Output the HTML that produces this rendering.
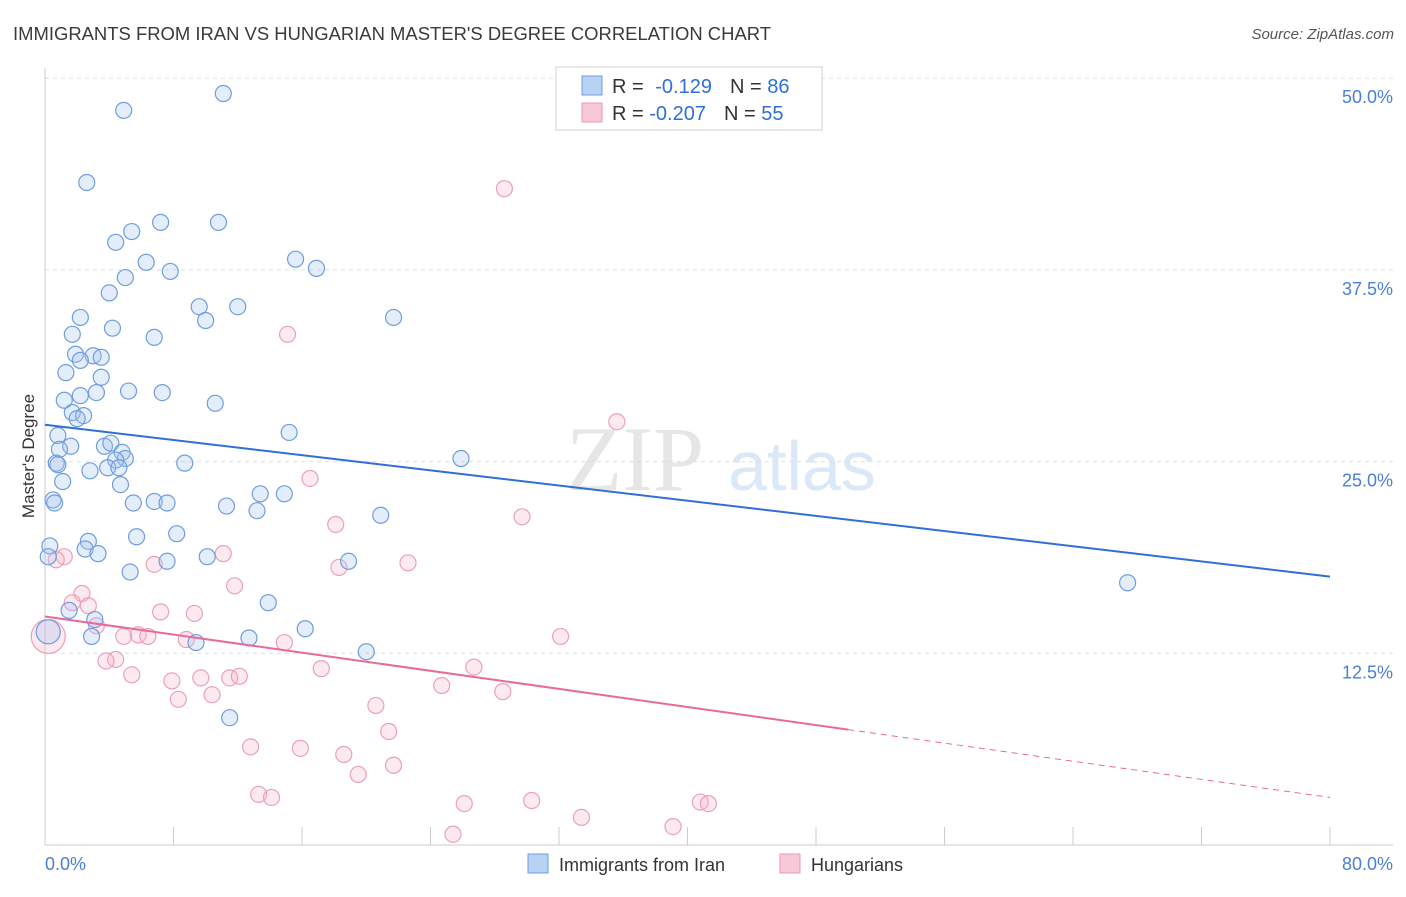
<!DOCTYPE html>
<html><head><meta charset="utf-8"><style>
body{margin:0;background:#fff;font-family:"Liberation Sans",sans-serif;}
</style></head><body>
<svg id="chart" width="1406" height="892" xmlns="http://www.w3.org/2000/svg" font-family="Liberation Sans, sans-serif">
<text x="13" y="40" font-size="18" fill="#3a3a3a" textLength="758" lengthAdjust="spacingAndGlyphs">IMMIGRANTS FROM IRAN VS HUNGARIAN MASTER'S DEGREE CORRELATION CHART</text>
<text x="1394" y="39" font-size="15" fill="#555" font-style="italic" text-anchor="end">Source: ZipAtlas.com</text>
<g>
<text x="635" y="490" font-size="92" fill="#e6e6e6" font-family="Liberation Serif, serif" text-anchor="middle">ZIP</text>
<text x="802" y="490" font-size="70" fill="#dbe8f7" text-anchor="middle">atlas</text>
</g>
<g id="grid"></g>
<g id="axes"></g>
<g id="pinkpts"></g>
<g id="bluepts"></g>
<g id="lines"></g>
<text transform="translate(34,456) rotate(-90)" font-size="17" fill="#333" text-anchor="middle">Master's Degree</text>
<text x="45" y="870" font-size="18" fill="#4a7fd4">0.0%</text>
<text x="1393" y="870" font-size="18" fill="#4a7fd4" text-anchor="end">80.0%</text>
<g>
<rect x="556" y="67" width="266" height="63" fill="#fff" stroke="#d0d0d0"/>
<rect x="582" y="76" width="20" height="19" fill="#b8d2f4" stroke="#6f9de0"/>
<rect x="582" y="103" width="20" height="19" fill="#f8c8d8" stroke="#e89ab2"/>
<text x="612" y="93" font-size="20" fill="#333">R = <tspan dx="6" fill="#2f6fd6">-0.129</tspan><tspan dx="18">N = </tspan><tspan fill="#2f6fd6">86</tspan></text>
<text x="612" y="120" font-size="20" fill="#333">R = <tspan fill="#2f6fd6">-0.207</tspan><tspan dx="18">N = </tspan><tspan fill="#2f6fd6">55</tspan></text>
</g>
<g>
<rect x="528" y="854" width="20" height="19" fill="#b8d2f4" stroke="#6f9de0"/>
<text x="559" y="871" font-size="18" fill="#333">Immigrants from Iran</text>
<rect x="780" y="854" width="20" height="19" fill="#f8c8d8" stroke="#e89ab2"/>
<text x="811" y="871" font-size="18" fill="#333">Hungarians</text>
</g>
</svg>
<script>
const yTicks=[12.5,25,37.5,50];
const yTickLabels=["12.5%","25.0%","37.5%","50.0%"];
const xTicks=[0,8,16,24,32,40,48,56,64,72,80];
const blueX=[4.9,11.1,2.6,7.2,10.8,4.4,5.4,6.3,7.8,5.0,4.0,15.6,16.9,9.6,12.0,10.0,21.7,2.2,4.2,1.7,6.8,1.9,3.0,3.5,2.2,1.3,3.5,5.2,7.3,3.2,2.2,1.2,10.6,1.7,2.4,2.0,0.8,15.2,1.6,3.7,4.1,0.9,4.8,5.0,4.4,0.7,0.8,8.7,3.9,4.6,25.9,2.8,1.1,4.7,13.4,14.9,0.5,0.6,5.5,6.8,7.6,11.3,13.2,20.9,8.2,5.7,0.3,2.7,2.5,3.3,0.2,10.1,7.6,18.9,5.3,67.4,13.9,1.5,3.1,16.2,0.2,2.9,12.7,9.4,20.0,11.5];
const blueY=[47.9,49.0,43.2,40.6,40.6,39.3,40.0,38.0,37.4,37.0,36.0,38.2,37.6,35.1,35.1,34.2,34.4,34.4,33.7,33.3,33.1,32.0,31.9,31.8,31.6,30.8,30.5,29.6,29.5,29.5,29.3,29.0,28.8,28.2,28.0,27.8,26.7,26.9,26.0,26.0,26.2,25.8,25.6,25.2,25.1,24.9,24.8,24.9,24.6,24.6,25.2,24.4,23.7,23.5,22.9,22.9,22.5,22.3,22.3,22.4,22.3,22.1,21.8,21.5,20.3,20.1,19.5,19.8,19.3,19.0,18.8,18.8,18.5,18.5,17.8,17.1,15.8,15.3,14.7,14.1,13.9,13.6,13.5,13.2,12.6,8.3];
const pinkX=[28.6,15.1,35.6,16.5,29.7,18.1,11.1,1.2,0.7,22.6,18.3,6.8,11.8,2.3,1.7,2.7,7.2,9.3,3.2,5.8,4.9,6.4,8.8,14.9,0.2,32.1,4.4,3.8,26.7,17.2,5.4,7.9,9.7,11.5,12.1,24.7,28.5,10.4,8.3,20.6,21.4,12.8,15.9,18.6,19.5,21.7,13.3,14.1,30.3,26.1,40.8,41.3,33.4,25.4,39.1];
const pinkY=[42.8,33.3,27.6,23.9,21.4,20.9,19.0,18.8,18.6,18.4,18.1,18.3,16.9,16.4,15.8,15.6,15.2,15.1,14.3,13.7,13.6,13.6,13.4,13.2,13.6,13.6,12.1,12.0,11.6,11.5,11.1,10.7,10.9,10.9,11.0,10.4,10.0,9.8,9.5,9.1,7.4,6.4,6.3,5.9,4.6,5.2,3.3,3.1,2.9,2.7,2.8,2.7,1.8,0.7,1.2];
const blueLine=[27.4,17.5];
const pinkLine=[14.9,3.1];
const pinkSolidEnd=50;
const NS="http://www.w3.org/2000/svg";
const X=v=>45+v/80*1285;
const Y=v=>845-v/12.5*191.7;
function mk(tag,attrs,parent){const e=document.createElementNS(NS,tag);for(const k in attrs)e.setAttribute(k,attrs[k]);parent.appendChild(e);return e;}
const grid=document.getElementById('grid');
yTicks.forEach((t,i)=>{
 const l=mk('line',{x1:45,x2:1393,y1:Y(t),y2:Y(t),stroke:'#dedede','stroke-dasharray':'4,4'},grid);
 
 
 const tx=mk('text',{x:1393,y:Y(t)+25,'font-size':18,fill:'#4a7fd4','text-anchor':'end'},grid);
 tx.textContent=yTickLabels[i];
 
 
});
const axes=document.getElementById('axes');
const ya=mk('line',{x1:45,x2:45,y1:68,y2:845,stroke:'#ccc'},axes);


const xa=mk('line',{x1:45,x2:1393,y1:845,y2:845,stroke:'#ccc'},axes);


xTicks.forEach(t=>{const k=mk('line',{x1:X(t),x2:X(t),y1:827,y2:845,stroke:'#ccc'},axes);
 
 });
const bp=document.getElementById('bluepts');
blueX.forEach((v,i)=>{const big=(v<0.5&&blueY[i]<14.5&&blueY[i]>13.5);
 const c=mk('circle',{cx:X(v),cy:Y(blueY[i]),r:big?12:8,fill:'rgba(164,196,240,0.3)',stroke:'#6f9de0','stroke-width':1.2},bp);
 
 });
const pp=document.getElementById('pinkpts');
pinkX.forEach((v,i)=>{const big=(i===24);
 const c=mk('circle',{cx:X(v),cy:Y(pinkY[i]),r:big?17:8,fill:'rgba(244,180,200,0.28)',stroke:'#eba0b8','stroke-width':1.2},pp);
 
 });
const lines=document.getElementById('lines');
const bl=mk('line',{x1:X(0),y1:Y(blueLine[0]),x2:X(80),y2:Y(blueLine[1]),stroke:'#2f6fd6','stroke-width':2},lines);


const pm=pinkLine[0]+(pinkLine[1]-pinkLine[0])*pinkSolidEnd/80;
const pl=mk('line',{x1:X(0),y1:Y(pinkLine[0]),x2:X(pinkSolidEnd),y2:Y(pm),stroke:'#e8699a','stroke-width':2},lines);


const pd=mk('line',{x1:X(pinkSolidEnd),y1:Y(pm),x2:X(80),y2:Y(pinkLine[1]),stroke:'#e8699a','stroke-width':1,'stroke-dasharray':'6,5'},lines);


</script>
</body></html>
